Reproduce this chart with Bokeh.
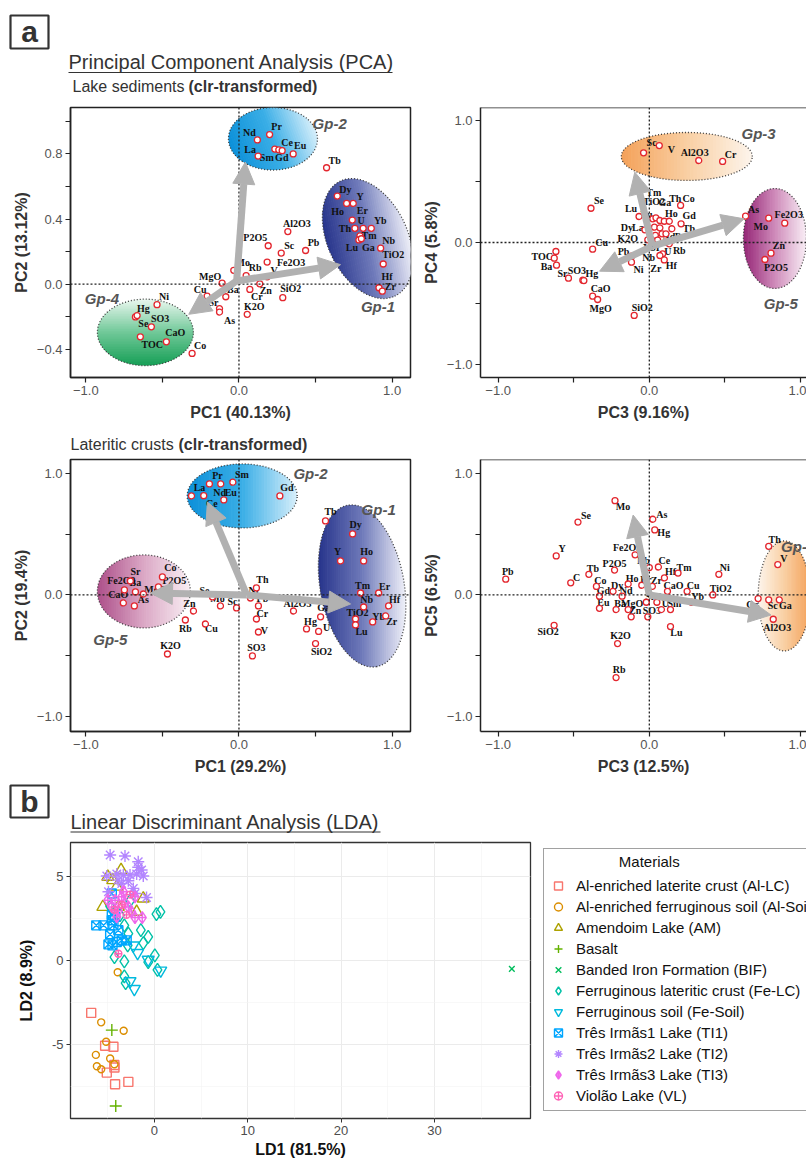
import math
from bokeh.plotting import figure
from bokeh.layouts import column, row
from bokeh.models import (Range1d, FixedTicker, Span, Arrow, NormalHead, Legend,
                          LegendItem, ColumnDataSource)
from bokeh.core.properties import value
from bokeh.embed import file_html
from bokeh.resources import INLINE

# ======================= DATA =======================
# (a) Lake sediments, PC1 vs PC2
ls12_var = ["Nd","Pr","La","Sm","Gd","Ce","Eu","Tb","Dy","Ho","Y","Er","Th","U","Yb","Tm","Lu","Ga","Nb","TiO2","Hf","Zr",
            "Al2O3","P2O5","Sc","Pb","Fe2O3","V","Mo","Rb","MgO","Cu","Ba","Cr","Zn","SiO2","K2O","Sr","As","Ni","Hg","SO3",
            "Se","CaO","TOC","Co"]
ls12_pc1 = [0.120,0.200,0.125,0.234,0.260,0.282,0.354,0.572,0.642,0.703,0.746,0.740,0.757,0.811,0.864,0.790,0.783,0.799,0.925,0.942,0.914,0.936,
            0.319,0.191,0.276,0.435,0.184,0.184,-0.034,0.047,-0.110,-0.208,-0.086,0.071,0.136,0.286,0.054,-0.127,-0.127,-0.535,-0.676,-0.665,
            -0.572,-0.474,-0.644,-0.306]
ls12_pc2 = [0.886,0.919,0.787,0.830,0.825,0.820,0.800,0.715,0.541,0.496,0.496,0.394,0.343,0.343,0.343,0.297,0.272,0.279,0.221,0.124,-0.022,-0.043,
            0.323,0.236,0.191,0.207,0.136,0.045,0.085,0.053,0.006,-0.073,-0.077,-0.032,0.002,-0.083,-0.185,-0.150,-0.171,-0.126,-0.201,-0.193,
            -0.262,-0.354,-0.323,-0.425]
# label offsets (pixels)
ls12_dx = [-8,7,-8,-8,3,5,7,8,8,-9,7,10,-10,-2,9,9,-7,7,8,10,8,8, 9,-13,8,8,24,7,9,9,-12,-7,7,7,6,8,7,-6,10,7,8,23, -8,9,12,8]
ls12_dy = [-7,-8,-7,8,8,-8,-8,-7,-7,8,-7,-10,0,-8,-8,0,8,9,-8,-9,-11,-5, -8,-8,-8,-8,0,-6,-8,-8,-7,-7,-7,7,7,-9,-8,-6,8,-8,-8,3, -3,-9,8,-8]

# (a) Lake sediments, PC3 vs PC4
ls34_var = ["Sc","V","Al2O3","Cr","Se","Cu","","TOC","Ba","Sr","SO3","Hg","CaO","MgO","SiO2","Pb","Ni","Lu","La","K2O",
            "Tm","TiO2","Ga","Th","Eu","Ho","Co","Gd","Tb","Dy","Nd","Pr","Yb","Y","U","Rb","Nb","Hf","Zr",
            "As","Mo","Fe2O3","Zn","P2O5"]
ls34_pc3 = [-0.038,0.066,0.327,0.485,-0.386,-0.375,-0.618,-0.629,-0.614,-0.535,-0.440,-0.433,-0.375,-0.342,-0.100,-0.118,-0.118,-0.068,-0.029,-0.010,
            0.023,0.044,0.070,0.099,0.034,0.132,0.207,0.210,0.149,0.070,0.084,0.110,0.040,0.055,0.110,0.132,0.088,0.099,0.070,
            0.637,0.790,0.896,0.805,0.765]
ls34_pc4 = [0.738,0.798,0.675,0.667,0.282,-0.055,-0.074,-0.129,-0.187,-0.294,-0.310,-0.313,-0.442,-0.469,-0.600,-0.113,-0.162,0.214,0.104,0.022,
            0.195,0.203,0.181,0.175,0.126,0.175,0.305,0.154,0.113,0.121,0.071,0.071,0.058,0.020,0.003,-0.011,-0.093,-0.143,-0.107,
            0.217,0.200,0.159,-0.088,-0.140]
ls34_dx = [8,12,-4,8,8,9,0,-12,-10,-6,-6,8,8,3,8,-8,7,-8,-7,-20, 1,-2,5,11,-8,2,8,8,17,-33,7,14,-6,0,2,10,-14,7,-4, 8,-8,4,8,11]
ls34_dy = [-10,4,-8,-7,-8,-7,0,-2,1,-5,-10,-7,-8,9,-8,-5,7,-8,-2,-1, -26,-16,-18,-23,-13,-8,-7,-8,0,0,3,3,12,7,9,7,4,6,13, -7,8,-9,-8,8]

# (a) Lateritic crusts, PC1 vs PC2
lc12_var = ["La","Ce","Pr","Nd","Sm","Eu","Gd","Tb","Dy","Y","Ho","Er","Tm","Nb","Hf","TiO2","Yb","Zr","Lu","Ga","U","SiO2",
            "Sr","Co","Fe2O3","P2O5","Ba","MgO","CaO","As","Th","Ni","Pb","Sc","Mo","Se","Zn","Cu","Rb","Cr","V","Al2O3","Hg","K2O","SO3"]
lc12_pc1 = [-0.310,-0.230,-0.193,-0.119,-0.040,-0.099,0.267,0.565,0.742,0.663,0.814,0.912,0.794,0.814,0.977,0.761,0.873,0.958,0.761,0.533,0.520,0.500,
            -0.709,-0.500,-0.748,-0.526,-0.676,-0.624,-0.755,-0.683,0.114,0.075,0.127,-0.016,-0.121,-0.173,-0.297,-0.219,-0.350,0.114,0.127,0.356,0.441,-0.467,0.088]
lc12_pc2 = [0.815,0.817,0.914,0.914,0.928,0.782,0.815,0.609,0.502,0.280,0.280,0.016,0.016,-0.099,-0.090,-0.198,-0.222,-0.173,-0.247,-0.180,-0.300,-0.400,
            0.115,0.148,0.041,0.066,0.025,0.008,-0.066,-0.090,0.058,-0.025,-0.090,-0.107,-0.090,-0.016,-0.132,-0.239,-0.206,-0.198,-0.305,-0.132,-0.280,-0.486,-0.502]
lc12_dx = [8,8,8,-1,9,7,7,5,3,-3,3,6,2,3,6,2,6,6,6,3,8,6, 5,8,-3,16,0,12,-5,9,6,3,4,-4,-3,-8,-4,6,0,6,6,4,4,3,4]
lc12_dy = [-8,8,-8,9,-8,-7,-8,-9,-9,-9,-9,-7,-8,-7,-6,-7,-5,6,7,-9,-4,8, -9,-9,-9,-6,-9,-4,-8,-6,-8,-7,-7,-6,-7,-6,-7,5,9,-6,-2,-7,-7,-8,-8]

# (a) Lateritic crusts, PC3 vs PC5
lc35_var = ["Mo","As","Se","Hg","Y","Fe2O3","Pb","C","Tb","P2O5","Nb","Ce","Tm","Hf","Co","Ho","Er","Zr","CaO","Cu","Dy","Gd",
            "Nd","Sr","Pr","Yb","TiO2","Ni","Eu","Ba","MgO","U","Sm","Zn","SO3","Lu","K2O","Rb","SiO2",
            "Th","V","Cr","Sc","Ga","Al2O3"]
lc35_pc3 = [-0.227,0.023,-0.472,0.036,-0.616,-0.094,-0.950,-0.520,-0.400,-0.230,0.000,0.060,0.190,0.100,-0.350,-0.140,-0.050,0.020,0.120,0.250,-0.240,-0.330,
            -0.180,-0.020,0.050,0.280,0.420,0.460,-0.330,-0.220,-0.140,0.080,0.140,-0.120,-0.010,0.140,-0.210,-0.220,-0.630,
            0.790,0.850,0.720,0.790,0.860,0.820]
lc35_pc5 = [0.776,0.623,0.600,0.535,0.321,0.330,0.130,0.100,0.170,0.205,0.225,0.230,0.180,0.140,0.070,0.090,0.080,0.070,0.030,0.030,0.030,-0.010,
            -0.010,-0.060,-0.060,-0.060,0.000,0.170,-0.110,-0.120,-0.120,-0.120,-0.120,-0.180,-0.180,-0.260,-0.400,-0.680,-0.250,
            0.400,0.250,-0.030,-0.040,-0.040,-0.200]
lc35_dx = [8,9,8,9,6,-8,2,6,4,0,-6,6,6,6,4,4,4,4,6,6,4,4, 4,4,4,6,8,6,4,4,4,4,4,4,4,6,3,3,-6, 6,6,-6,4,6,4]
lc35_dy = [6,-5,-7,3,-7,-7,-8,-5,-6,-7,-7,-7,-6,-6,-6,-6,-6,-6,-6,-6,-6,-6, -6,-6,-6,-6,-6,-7,-6,-6,-6,-6,-6,-6,-6,6,-8,-8,6, -7,-6,6,6,6,8]

# (b) LDA scores per material
lda_groups = ["Al-enriched laterite crust (Al-LC)","Al-enriched ferruginous soil (Al-Soil)","Amendoim Lake (AM)","Basalt",
              "Banded Iron Formation (BIF)","Ferruginous lateritic crust (Fe-LC)","Ferruginous soil (Fe-Soil)",
              "Três Irmãs1 Lake (TI1)","Três Irmãs2 Lake (TI2)","Três Irmãs3 Lake (TI3)","Violão Lake (VL)"]
AlLC_ld1 = [-6.78,-5.29,-4.40,-5.11,-4.29,-4.22,-2.80,-4.30]
AlLC_ld2 = [-3.11,-5.06,-5.12,-6.65,-6.35,-7.34,-7.20,-6.20]
AlSoil_ld1 = [-3.94,-5.71,-3.30,-5.18,-6.28,-4.75,-6.17,-5.71,-4.29]
AlSoil_ld2 = [-0.70,-3.67,-4.17,-4.82,-5.60,-5.81,-6.27,-6.45,-6.15]
AM_ld1 = [-3.58,-4.47,-5.53,-4.04,-1.91,-1.20,-3.87,-5.00]
AM_ld2 = [5.36,4.76,3.17,4.37,2.88,3.67,3.17,4.96]
Basalt_ld1 = [-4.57,-4.15]
Basalt_ld2 = [-4.13,-8.63]
BIF_ld1 = [38.3]
BIF_ld2 = [-0.50]
FeLC_ld1 = [-4.75,-3.69,-2.62,-2.80,-1.46,-0.67,-1.20,-2.87,0.21,0.64,-4.29,-3.23,0.04,-0.67,0.32,-3.23,-3.09,-3.23]
FeLC_ld2 = [3.21,2.68,3.53,1.59,1.79,1.39,1.03,0.89,2.74,2.88,0.20,-0.06,0.30,-0.10,-0.56,-0.95,-1.35,2.08]
FeSoil_ld1 = [-2.27,-1.81,-0.67,0.67,-2.16,-2.62]
FeSoil_ld2 = [0.89,0.44,0.04,-0.60,-1.69,-1.23]
TI1_ld1 = [-6.24,-5.46,-4.40,-4.75,-4.93,-4.50,-4.04,-3.51,-3.87,-4.22,-4.57,-2.98,-4.57,-4.57]
TI1_ld2 = [2.08,2.08,2.08,1.55,0.95,0.89,1.09,1.19,1.79,2.58,2.38,1.19,3.97,2.70]
TI2_ld1 = [-4.75,-3.16,-1.74,-5.11,-1.38,-1.91,-0.85,-4.93,-2.27,-2.80,-3.51,-4.04,-1.74,-2.62,-1.20,-3.34,-3.90,-2.09]
TI2_ld2 = [6.25,6.19,5.85,5.00,5.36,5.12,3.73,4.07,4.27,4.72,4.56,5.12,5.52,5.06,5.00,5.06,4.76,3.97]
TI3_ld1 = [-4.22,-3.51,-4.57,-2.80,-2.09,-1.31,-3.87,-3.16,-2.45,-4.04,-3.33,-2.09,-5.00]
TI3_ld2 = [3.57,3.77,3.17,3.17,2.54,2.54,2.94,3.41,2.88,2.58,4.07,3.77,3.57]
VL_ld1 = [-3.87,-3.50,-2.60,-4.30,-3.00]
VL_ld2 = [0.40,3.30,3.90,3.00,2.70]

# ======================= STYLE =======================
SANS = "Liberation Sans"
SERIF = "Liberation Serif"
TXT = "#333333"
ARROW = "#b1b1b1"
PT_RED = "#e3262e"

def hex2rgb(h):
    h = h.lstrip("#")
    return tuple(int(h[i:i+2], 16) for i in (0, 2, 4))

def interp(stops, t):
    n = len(stops) - 1
    t = min(max(t, 0.0), 1.0)
    i = min(int(t * n), n - 1)
    f = t * n - i
    a, b = hex2rgb(stops[i]), hex2rgb(stops[i+1])
    c = [round(a[k] + (b[k]-a[k])*f) for k in range(3)]
    return "#%02x%02x%02x" % tuple(c)

def ellipse_poly(a, b, ang_deg, n=120):
    c, s = math.cos(math.radians(ang_deg)), math.sin(math.radians(ang_deg))
    pts = []
    for i in range(n):
        t = 2*math.pi*i/n
        ex, ey = a*math.cos(t), b*math.sin(t)
        pts.append((ex*c - ey*s, ex*s + ey*c))
    return pts

def clip_half(poly, ux, uy, s, keep_ge):
    out = []
    n = len(poly)
    for i in range(n):
        P, Q = poly[i], poly[(i+1) % n]
        vp = P[0]*ux + P[1]*uy - s
        vq = Q[0]*ux + Q[1]*uy - s
        inP = vp >= 0 if keep_ge else vp <= 0
        inQ = vq >= 0 if keep_ge else vq <= 0
        if inP:
            out.append(P)
        if inP != inQ:
            t = vp/(vp - vq)
            out.append((P[0] + t*(Q[0]-P[0]), P[1] + t*(Q[1]-P[1])))
    return out

def add_group(p, sx, sy, cx, cy, a, b, ang, stops, gdir, n=40):
    poly = ellipse_poly(a, b, ang)
    ux, uy = math.cos(math.radians(gdir)), math.sin(math.radians(gdir))
    proj = [q[0]*ux + q[1]*uy for q in poly]
    lo, hi = min(proj), max(proj)
    xs, ys, cols = [], [], []
    for k in range(n):
        s0 = lo + (hi-lo)*k/n
        s1 = lo + (hi-lo)*(k+1)/n + 0.7
        piece = clip_half(clip_half(poly, ux, uy, s0, True), ux, uy, s1, False)
        if len(piece) < 3:
            continue
        xs.append([cx + q[0]/sx for q in piece])
        ys.append([cy + q[1]/sy for q in piece])
        cols.append(interp(stops, (k+0.5)/n))
    p.patches(xs="xs", ys="ys", fill_color="c", line_color=None,
              source=ColumnDataSource(dict(xs=xs, ys=ys, c=cols)))
    p.patch([cx + q[0]/sx for q in poly] + [cx + poly[0][0]/sx],
            [cy + q[1]/sy for q in poly] + [cy + poly[0][1]/sy],
            fill_color=None, line_color="#3a3a3a", line_dash="1 2", line_width=1.3)

BLUE = ["#0c90d9", "#3aaee6", "#d8effb"]
NAVY = ["#27348b", "#6f7aba", "#f0f1f9"]
GREEN = ["#169f56", "#70c898", "#eaf7ef"]
ORANGE = ["#f4a159", "#f9cfa3", "#fdf5ec"]
MAGENTA = ["#952576", "#cf8bba", "#f9eff6"]
MAUVE = ["#ad4f8a", "#dba8c5", "#f9eff4"]

def pca_panel(width, height, left, right, top, bottom, xr, yr, yticks, yover,
              xlabel, ylabel, clipped):
    p = figure(width=width, height=height, x_range=Range1d(*xr), y_range=Range1d(*yr),
               toolbar_location=None, output_backend="svg",
               min_border_left=left, min_border_right=right,
               min_border_top=top, min_border_bottom=bottom)
    p.grid.visible = False
    p.background_fill_color = "white"
    p.xaxis.ticker = FixedTicker(ticks=[-1.0, -0.5, 0.0, 0.5, 1.0])
    p.xaxis.major_label_overrides = {-1.0: "\u22121.0", -0.5: "", 0.0: "0.0", 0.5: "", 1.0: "1.0"}
    p.yaxis.ticker = FixedTicker(ticks=yticks)
    p.yaxis.major_label_overrides = yover
    for ax in (p.xaxis[0], p.yaxis[0]):
        ax.minor_tick_line_color = None
        ax.major_tick_in = 0
        ax.major_tick_out = 5
        ax.major_tick_line_color = "#222222"
        ax.major_tick_line_width = 1.2
        ax.axis_line_color = "#222222"
        ax.axis_line_width = 1.5
        ax.major_label_text_font = SANS
        ax.major_label_text_font_size = "13px"
        ax.major_label_text_color = "#555555"
        ax.major_label_standoff = 3
        ax.axis_label_text_font = SANS
        ax.axis_label_text_font_size = "16px"
        ax.axis_label_text_font_style = "bold"
        ax.axis_label_text_color = TXT
    p.xaxis.axis_label = xlabel
    p.yaxis.axis_label = ylabel
    p.xaxis.axis_label_standoff = 6
    p.yaxis.axis_label_standoff = 4
    if clipped:
        p.outline_line_color = None
        p.add_layout(Span(location=yr[1], dimension="width", line_color="#222222", line_width=1.5))
    else:
        p.outline_line_color = "#222222"
        p.outline_line_width = 1.5
    return p

def zero_lines(p):
    p.add_layout(Span(location=0, dimension="height", line_color="#222222", line_dash="2 2", line_width=1.3))
    p.add_layout(Span(location=0, dimension="width", line_color="#222222", line_dash="2 2", line_width=1.3))

def arrows(p, x0, y0, ends):
    for (xe, ye) in ends:
        p.add_layout(Arrow(end=NormalHead(size=22, fill_color=ARROW, line_color=ARROW, line_width=1),
                           x_start=x0, y_start=y0, x_end=xe, y_end=ye,
                           line_color=ARROW, line_width=7))

def points(p, xs, ys, names, dx, dy):
    src = ColumnDataSource(dict(x=xs, y=ys, t=names, dx=dx, dy=dy))
    p.text(x="x", y="y", text="t", x_offset="dx", y_offset="dy", source=src,
           text_font=value(SERIF), text_font_size="10px", text_font_style="bold",
           text_color="#111111", text_align="center", text_baseline="middle")
    p.scatter(x="x", y="y", source=src, marker="circle", size=6, fill_color="white",
              line_color=PT_RED, line_width=1.3)

def gp_label(p, x, y, t):
    p.text(x=[x], y=[y], text=[t], text_font=value(SANS), text_font_size="15px",
           text_font_style="bold italic", text_color="#555555",
           text_align="center", text_baseline="middle")

Y1TICKS = [-0.4, -0.2, 0.0, 0.2, 0.4, 0.6, 0.8, 1.0]
Y1OVER = {-0.4: "\u22120.4", -0.2: "", 0.0: "0.0", 0.2: "", 0.4: "0.4", 0.6: "", 0.8: "0.8", 1.0: ""}
Y2TICKS = [-1.0, -0.5, 0.0, 0.5, 1.0]
Y2OVER = {-1.0: "\u22121.0", -0.5: "", 0.0: "0.0", 0.5: "", 1.0: "1.0"}

# ---------------- headers (pixel-like coordinates, y measured from the top) ----------------
def header(h):
    p = figure(width=806, height=h, x_range=Range1d(0, 806), y_range=Range1d(0, h),
               toolbar_location=None, output_backend="svg", min_border=0,
               x_axis_location=None, y_axis_location=None)
    p.grid.visible = False
    p.outline_line_color = None
    return p

def htext(p, h, x, ytop, t, size, style="normal", align="left"):
    p.text(x=[x], y=[h - ytop], text=[t], text_font=value(SANS), text_font_size=size,
           text_font_style=style, text_color=TXT, text_align=align, text_baseline="middle")

def hbox(p, h, x0, x1, y0, y1):
    p.quad(left=[x0], right=[x1], top=[h - y0], bottom=[h - y1], fill_color="white",
           line_color="#333333", line_width=2.2)

def hline(p, h, x0, x1, y):
    p.segment(x0=[x0], y0=[h - y], x1=[x1], y1=[h - y], line_color=TXT, line_width=1.2)

H1 = 100
h1 = header(H1)
hbox(h1, H1, 10, 48, 15, 48)
htext(h1, H1, 29, 31, "a", "30px", "bold", "center")
htext(h1, H1, 68, 61, "Principal Component Analysis (PCA)", "20px")
hline(h1, H1, 68, 392, 72)
htext(h1, H1, 72, 86, "Lake sediments ", "16px")
htext(h1, H1, 188, 86, "(clr-transformed)", "16px", "bold")

# ---------------- panel 1 ----------------
P1X, P1Y = (-1.10, 1.12), (-0.573, 1.085)
p1 = pca_panel(419, 332, 70, 9, 5, 55, P1X, P1Y, Y1TICKS, Y1OVER, "PC1 (40.13%)", "PC2 (13.12%)", False)
sx1, sy1 = 340/(P1X[1]-P1X[0]), 272/(P1Y[1]-P1Y[0])
add_group(p1, sx1, sy1, 0.222, 0.893, 44.5, 31.5, 0, BLUE, 20)
add_group(p1, sx1, sy1, 0.840, 0.280, 64, 40, -65, NAVY, 10)
add_group(p1, sx1, sy1, -0.611, -0.296, 48, 33.5, 0, GREEN, 90)
zero_lines(p1)
arrows(p1, -0.015, 0.02, [(0.042, 0.75), (0.663, 0.12), (-0.328, -0.185)])
points(p1, ls12_pc1, ls12_pc2, ls12_var, ls12_dx, ls12_dy)
gp_label(p1, 0.592, 0.988, "Gp-2")
gp_label(p1, 0.908, -0.134, "Gp-1")
gp_label(p1, -0.895, -0.085, "Gp-4")

# ---------------- panel 2 ----------------
P2X, P2Y = (-1.117, 1.04), (-1.111, 1.111)
p2 = pca_panel(387, 332, 56, 0, 7, 55, P2X, P2Y, Y2TICKS, Y2OVER, "PC3 (9.16%)", "PC4 (5.8%)", True)
sx2, sy2 = 331/(P2X[1]-P2X[0]), 270/(P2Y[1]-P2Y[0])
add_group(p2, sx2, sy2, 0.248, 0.708, 66.5, 24, 0, ORANGE, 0)
add_group(p2, sx2, sy2, 0.831, 0.033, 32, 50, 0, MAGENTA, 0)
zero_lines(p2)
arrows(p2, 0.02, -0.03, [(-0.096, 0.579), (0.627, 0.195), (-0.329, -0.236)])
points(p2, ls34_pc3, ls34_pc4, ls34_var, ls34_dx, ls34_dy)
gp_label(p2, 0.723, 0.897, "Gp-3")
gp_label(p2, 0.870, -0.500, "Gp-5")

# ---------------- header lateritic ----------------
H2 = 22
h2 = header(H2)
htext(h2, H2, 70, 12, "Lateritic crusts ", "16px")
htext(h2, H2, 178, 12, "(clr-transformed)", "16px", "bold")

# ---------------- panel 3 ----------------
P3X, P3Y = (-1.10, 1.12), (-1.124, 1.115)
p3 = pca_panel(419, 328, 70, 9, 5, 51, P3X, P3Y, Y2TICKS, Y2OVER, "PC1 (29.2%)", "PC2 (19.4%)", False)
sx3, sy3 = 340/(P3X[1]-P3X[0]), 272/(P3Y[1]-P3Y[0])
add_group(p3, sx3, sy3, 0.021, 0.815, 55, 32, 0, BLUE, 0)
add_group(p3, sx3, sy3, 0.804, 0.074, 82, 42, -80, NAVY, 0)
add_group(p3, sx3, sy3, -0.621, 0.029, 46.5, 36.5, 0, MAUVE, 0)
zero_lines(p3)
arrows(p3, 0.05, 0.0, [(-0.206, 0.765), (0.729, -0.074), (-0.578, 0.016)])
points(p3, lc12_pc1, lc12_pc2, lc12_var, lc12_dx, lc12_dy)
gp_label(p3, 0.467, 0.996, "Gp-2")
gp_label(p3, 0.912, 0.700, "Gp-1")
gp_label(p3, -0.840, -0.370, "Gp-5")

# ---------------- panel 4 ----------------
P4X, P4Y = (-1.117, 1.04), (-1.124, 1.115)
p4 = pca_panel(387, 328, 56, 0, 5, 51, P4X, P4Y, Y2TICKS, Y2OVER, "PC3 (12.5%)", "PC5 (6.5%)", True)
sx4, sy4 = 331/(P4X[1]-P4X[0]), 272/(P4Y[1]-P4Y[0])
add_group(p4, sx4, sy4, 0.893, -0.008, 26.5, 55, 0, ORANGE, 180)
zero_lines(p4)
arrows(p4, 0.0, 0.0, [(-0.107, 0.658), (0.805, -0.165)])
points(p4, lc35_pc3, lc35_pc5, lc35_var, lc35_dx, lc35_dy)
gp_label(p4, 0.985, 0.400, "Gp-3")

# ---------------- header b ----------------
H3 = 54
h3 = header(H3)
hbox(h3, H3, 10, 48, 3, 35)
htext(h3, H3, 29, 19, "b", "30px", "bold", "center")
htext(h3, H3, 70, 39, "Linear Discriminant Analysis (LDA)", "20px")
hline(h3, H3, 70, 380, 49.5)

# ---------------- LDA ----------------
lda = figure(width=537, height=332, x_range=Range1d(-9.0, 40.3), y_range=Range1d(-9.37, 6.99),
             toolbar_location=None, output_backend="svg",
             min_border_left=70, min_border_right=7, min_border_top=6, min_border_bottom=50)
lda.outline_line_color = "#333333"
lda.outline_line_width = 1.3
lda.xaxis.ticker = FixedTicker(ticks=[0, 10, 20, 30], minor_ticks=[-5, 5, 15, 25, 35])
lda.yaxis.ticker = FixedTicker(ticks=[-5, 0, 5], minor_ticks=[-7.5, -2.5, 2.5])
lda.xaxis.major_label_overrides = {0: "0", 10: "10", 20: "20", 30: "30"}
lda.yaxis.major_label_overrides = {-5: "-5", 0: "0", 5: "5"}
for ax in (lda.xaxis[0], lda.yaxis[0]):
    ax.axis_line_color = None
    ax.minor_tick_line_color = None
    ax.major_tick_in = 0
    ax.major_tick_out = 4
    ax.major_tick_line_color = "#333333"
    ax.major_label_text_font = SANS
    ax.major_label_text_font_size = "13px"
    ax.major_label_text_color = "#4d4d4d"
    ax.major_label_standoff = 3
    ax.axis_label_text_font = SANS
    ax.axis_label_text_font_size = "16px"
    ax.axis_label_text_font_style = "bold"
    ax.axis_label_text_color = "#111111"
lda.xaxis.axis_label = "LD1 (81.5%)"
lda.yaxis.axis_label = "LD2 (8.9%)"
lda.xaxis.axis_label_standoff = 3
lda.yaxis.axis_label_standoff = 14
lda.grid.grid_line_color = "#ebebeb"
lda.grid.grid_line_width = 1
lda.grid.minor_grid_line_color = "#f3f3f3"
lda.grid.minor_grid_line_width = 0.6

lda_style = [
    ("square", "#F8766D", 9, AlLC_ld1, AlLC_ld2),
    ("circle", "#DB8E00", 7, AlSoil_ld1, AlSoil_ld2),
    ("triangle", "#AEA200", 12, AM_ld1, AM_ld2),
    ("cross", "#64B200", 12, Basalt_ld1, Basalt_ld2),
    ("x", "#00BD5C", 8, BIF_ld1, BIF_ld2),
    ("diamond", "#00C1A7", 13, FeLC_ld1, FeLC_ld2),
    ("inverted_triangle", "#00BADE", 12, FeSoil_ld1, FeSoil_ld2),
    ("square_x", "#00A6FF", 9, TI1_ld1, TI1_ld2),
    ("asterisk", "#B385FF", 12, TI2_ld1, TI2_ld2),
    ("diamond_cross", "#EF67EB", 12, TI3_ld1, TI3_ld2),
    ("circle_cross", "#FF63B6", 7, VL_ld1, VL_ld2),
]
for (mk, col, sz, xs, ys) in lda_style:
    lda.scatter(xs, ys, marker=mk, size=sz, fill_color=None, line_color=col, line_width=1.4)

# legend panel: the same groups plotted outside its (hidden) view range, used only for the key
legf = figure(width=269, height=332, x_range=Range1d(100, 101), y_range=Range1d(100, 101),
              toolbar_location=None, output_backend="svg", min_border=0,
              x_axis_location=None, y_axis_location=None)
legf.grid.visible = False
legf.outline_line_color = None
items = []
for name, (mk, col, sz, xs, ys) in zip(lda_groups, lda_style):
    r = legf.scatter(xs, ys, marker=mk, size=sz, fill_color=None, line_color=col, line_width=1.4)
    items.append(LegendItem(label=name, renderers=[r]))
leg = Legend(items=items, location="top_left", margin=6, padding=4, spacing=0,
             glyph_width=20, glyph_height=21, label_height=21, label_standoff=8,
             label_text_font=SANS, label_text_font_size="15px", label_text_color="#111111",
             title="\u00a0" * 17 + "Materials", title_text_font=SANS, title_text_font_size="15px",
             title_text_font_style="normal", title_text_color="#111111", title_standoff=5,
             border_line_color="#444444", border_line_width=1.5, background_fill_color="white")
legf.add_layout(leg)

layout = column(h1, row(p1, p2), h2, row(p3, p4), h3, row(lda, legf))
open("out.html", "w").write(file_html(layout, INLINE))
